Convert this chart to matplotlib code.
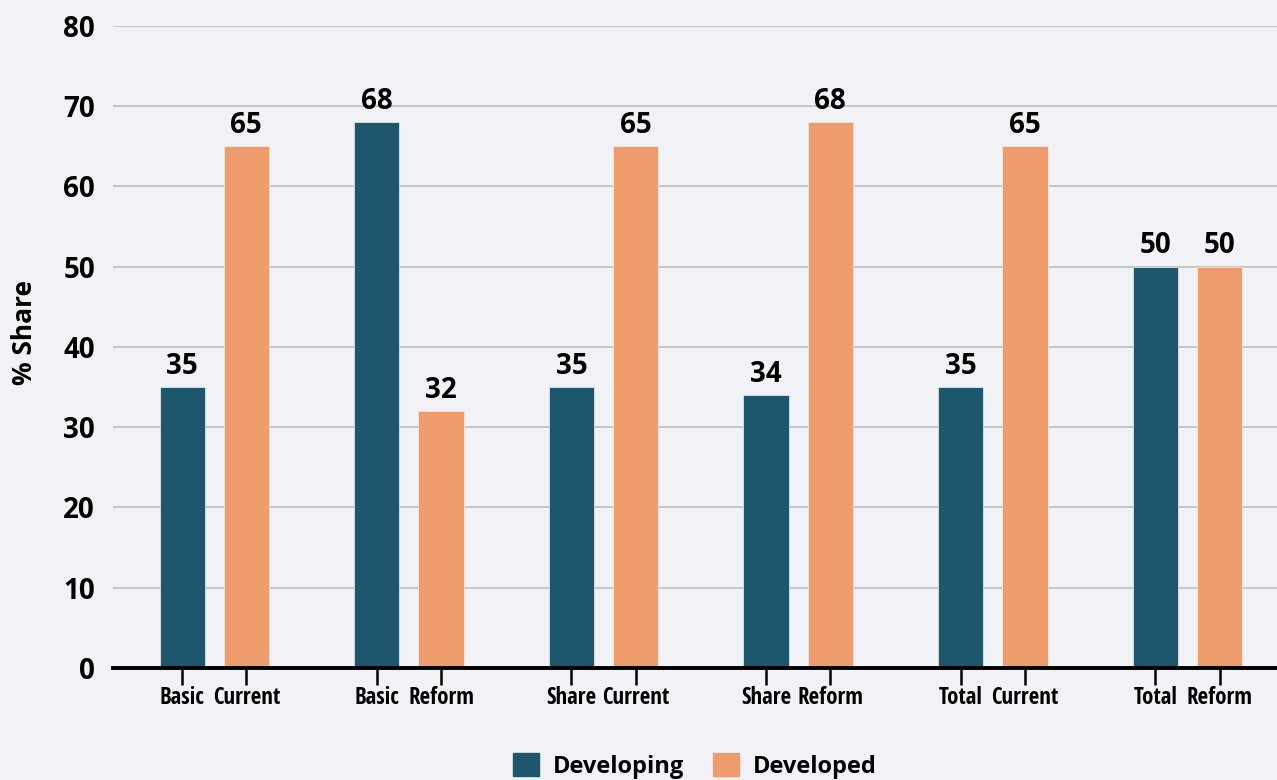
import numpy as np
import matplotlib
matplotlib.use('Agg')
import matplotlib.pyplot as plt
from matplotlib.patches import Patch

plt.rcParams['font.family'] = ['Open Sans', 'DejaVu Sans']
NARROW = ['Open Sans Condensed', 'Roboto Condensed', 'Asap Condensed', 'Open Sans']

# share of total by scenario
groups = [("Basic", "Current"), ("Basic", "Reform"), ("Share", "Current"),
          ("Share", "Reform"), ("Total", "Current"), ("Total", "Reform")]
developing = [35, 68, 35, 34, 35, 50]
developed = [65, 32, 65, 68, 65, 50]
label_dev = ["35", "68", "35", "34", "35", "50"]
label_ded = ["65", "32", "65", "68", "65", "50"]

BG = '#f1f2f6'
C_DEV = '#1e566e'
C_DED = '#ee9c6c'

fig = plt.figure(figsize=(12.77, 7.8), dpi=100, facecolor=BG)
ax = fig.add_axes([0.0885, 0.1436, 0.9115, 0.8231])
ax.set_facecolor(BG)

x = np.arange(len(groups))
off = 0.165
w = 0.232
b1 = ax.bar(x - off, developing, w, color=C_DEV, edgecolor='#dfe6ea', lw=0.6, zorder=3)
b2 = ax.bar(x + off, developed, w, color=C_DED, edgecolor='#f3e6dc', lw=0.6, zorder=3)

for bars, labs in ((b1, label_dev), (b2, label_ded)):
    for r, t in zip(bars, labs):
        ax.text(r.get_x() + r.get_width() / 2, r.get_height() + 0.8, t,
                ha='center', va='bottom', fontsize=20, fontweight='bold', color='black')

ax.set_ylim(0, 80)
ax.set_xlim(-0.52, 5.46)
ax.set_yticks(range(0, 81, 10))
ax.yaxis.grid(True, color='#c6c6c8', lw=1.4, zorder=0)
ax.tick_params(axis='y', length=0, pad=13, labelsize=20)
for lab in ax.get_yticklabels():
    lab.set_fontweight('bold')

ticks = np.concatenate([x - off, x + off])
tick_labels = [g[0] for g in groups] + [g[1] for g in groups]
ax.set_xticks(ticks)
ax.set_xticklabels(tick_labels, fontsize=16.5, fontweight='bold', family=NARROW)
ax.tick_params(axis='x', length=12, width=1.8, color='black', pad=1)

for s in ['top', 'right', 'left']:
    ax.spines[s].set_visible(False)
ax.spines['bottom'].set_linewidth(2.8)
ax.spines['bottom'].set_zorder(4)

fig.text(0.019, 0.574, '% Share', rotation=90, ha='center', va='center',
         fontsize=19, fontweight='bold')

handles = [Patch(color=C_DEV, label='Developing'), Patch(color=C_DED, label='Developed')]
leg = fig.legend(handles=handles, loc='center', bbox_to_anchor=(0.544, 0.018), ncol=2,
                 frameon=False, prop={'size': 17, 'weight': 'bold'},
                 handlelength=1.1, handleheight=1.1, columnspacing=1.2, handletextpad=0.6)

fig.savefig('out.png', dpi=100, facecolor=BG)
